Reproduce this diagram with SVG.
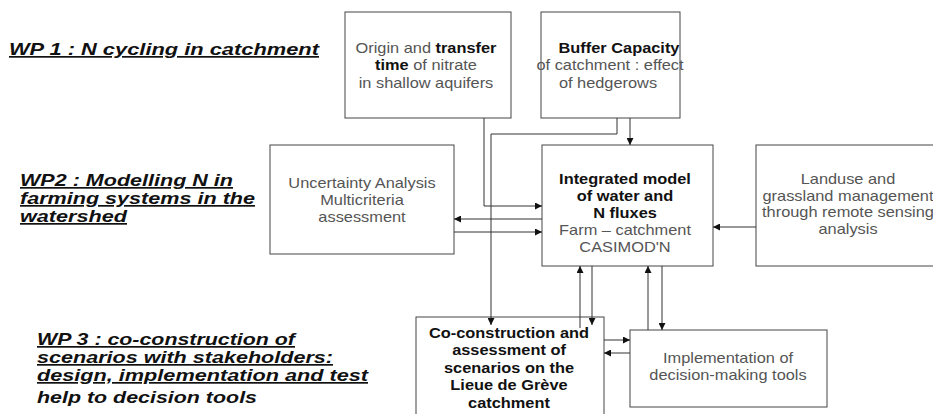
<svg xmlns="http://www.w3.org/2000/svg" width="933" height="414" viewBox="0 0 933 414">
<style>
.box{fill:#fff;stroke:#444;stroke-width:1}
.t{font-family:"Liberation Sans",Arial,sans-serif;font-size:14px;fill:#555;text-anchor:middle}
.b{font-weight:bold;fill:#111}
.wp{font-family:"Liberation Sans",Arial,sans-serif;font-size:17px;font-weight:bold;font-style:italic;fill:#111}
.u{text-decoration:underline}
.c{fill:none;stroke:#333;stroke-width:1}
</style>
<defs>
<marker id="ah" viewBox="0 0 10 10" refX="10" refY="5" markerWidth="7" markerHeight="7" markerUnits="userSpaceOnUse" orient="auto">
<path d="M0,0 L10,5 L0,10 z" fill="#111"/>
</marker>
</defs>
<rect width="933" height="414" fill="#fff"/>

<g id="wp1"><text class="wp u" x="9" y="55" font-size="18" textLength="310" lengthAdjust="spacingAndGlyphs">WP 1 : N cycling in catchment</text></g>
<g id="wp2">
<text class="wp u" x="20" y="186" textLength="213" lengthAdjust="spacingAndGlyphs">WP2 : Modelling N in</text>
<text class="wp u" x="20" y="204" textLength="235" lengthAdjust="spacingAndGlyphs">farming systems in the</text>
<text class="wp u" x="20" y="222" textLength="107" lengthAdjust="spacingAndGlyphs">watershed</text>
</g>
<g id="wp3">
<text class="wp u" x="37" y="345" textLength="258" lengthAdjust="spacingAndGlyphs">WP 3 : co-construction of</text>
<text class="wp u" x="37" y="363" textLength="296" lengthAdjust="spacingAndGlyphs">scenarios with stakeholders:</text>
<text class="wp u" x="37" y="381" textLength="331" lengthAdjust="spacingAndGlyphs">design, implementation and test</text>
<text class="wp" x="37" y="403" textLength="220" lengthAdjust="spacingAndGlyphs">help to decision tools</text>
</g>

<g id="origin">
<rect class="box" x="345" y="12" width="166" height="106"/>
<text class="t" transform="translate(426,53) scale(1.17,1)">Origin and <tspan class="b">transfer</tspan></text>
<text class="t" transform="translate(426,70) scale(1.17,1)"><tspan class="b">time</tspan> of nitrate</text>
<text class="t" transform="translate(426,88) scale(1.17,1)">in shallow aquifers</text>
</g>
<g id="buffer">
<rect class="box" x="541" y="12" width="139" height="106"/>
<text class="t b" transform="translate(619,53) scale(1.17,1)">Buffer Capacity</text>
<text class="t" transform="translate(610,70) scale(1.17,1)">of catchment : effect</text>
<text class="t" transform="translate(608,88) scale(1.17,1)">of hedgerows</text>
</g>
<g id="uncertainty">
<rect class="box" x="270" y="145" width="184" height="109"/>
<text class="t" transform="translate(362,188) scale(1.17,1)">Uncertainty Analysis</text>
<text class="t" transform="translate(362,205) scale(1.17,1)">Multicriteria</text>
<text class="t" transform="translate(362,222) scale(1.17,1)">assessment</text>
</g>
<g id="integrated">
<rect class="box" x="542" y="145" width="171" height="121"/>
<text class="t b" transform="translate(625,184) scale(1.17,1)">Integrated model</text>
<text class="t b" transform="translate(625,201) scale(1.17,1)">of water and</text>
<text class="t b" transform="translate(625,218) scale(1.17,1)">N fluxes</text>
<text class="t" transform="translate(625,235) scale(1.17,1)">Farm – catchment</text>
<text class="t" transform="translate(625,252) scale(1.17,1)">CASIMOD'N</text>
</g>
<g id="landuse">
<rect class="box" x="756" y="145" width="190" height="121"/>
<text class="t" transform="translate(848,184) scale(1.17,1)">Landuse and</text>
<text class="t" transform="translate(848,201) scale(1.17,1)">grassland management</text>
<text class="t" transform="translate(848,217) scale(1.17,1)">through remote sensing</text>
<text class="t" transform="translate(848,234) scale(1.17,1)">analysis</text>
</g>
<g id="coconstruction">
<rect class="box" x="416" y="317" width="188" height="110"/>
<text class="t b" transform="translate(509,338) scale(1.17,1)">Co-construction and</text>
<text class="t b" transform="translate(509,355) scale(1.17,1)">assessment of</text>
<text class="t b" transform="translate(509,373) scale(1.17,1)">scenarios on the</text>
<text class="t b" transform="translate(509,390) scale(1.17,1)">Lieue de Grève</text>
<text class="t b" transform="translate(509,408) scale(1.17,1)">catchment</text>
</g>
<g id="implementation">
<rect class="box" x="630" y="330" width="197" height="77"/>
<text class="t" transform="translate(728,363) scale(1.17,1)">Implementation of</text>
<text class="t" transform="translate(728,380) scale(1.17,1)">decision-making tools</text>
</g>

<g id="connectors">
<path class="c" d="M484,118 V206 H542" marker-end="url(#ah)"/>
<path class="c" d="M617,118 V134 H491 V325" marker-end="url(#ah)"/>
<path class="c" d="M630,118 V145" marker-end="url(#ah)"/>
<path class="c" d="M542,219 H454" marker-end="url(#ah)"/>
<path class="c" d="M454,232 H542" marker-end="url(#ah)"/>
<path class="c" d="M756,227 H713" marker-end="url(#ah)"/>
<path class="c" d="M580,328 V266" marker-end="url(#ah)"/>
<path class="c" d="M592,266 V325" marker-end="url(#ah)"/>
<path class="c" d="M648,330 V266" marker-end="url(#ah)"/>
<path class="c" d="M662,266 V330" marker-end="url(#ah)"/>
<path class="c" d="M604,340 H630" marker-end="url(#ah)"/>
<path class="c" d="M630,353 H604" marker-end="url(#ah)"/>
</g>
</svg>
